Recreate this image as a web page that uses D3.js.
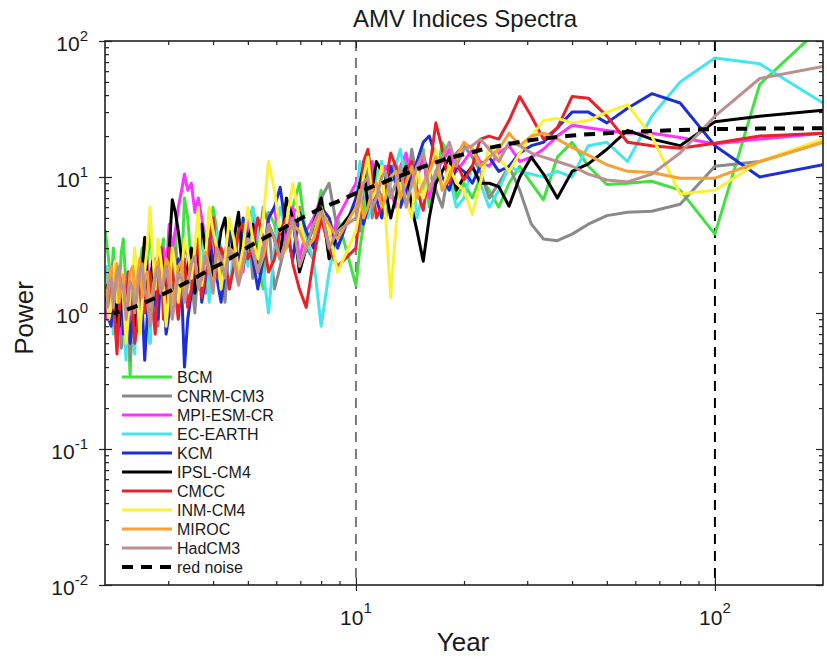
<!DOCTYPE html>
<html><head><meta charset="utf-8">
<script src="https://cdn.jsdelivr.net/npm/d3@7"></script>
<style>
body{margin:0;background:#fff}
svg{display:block}
text{font-family:"Liberation Sans",Arial,Helvetica,sans-serif;fill:#1a1a1a}
</style>
</head><body>
<svg id="c" width="827" height="659"></svg>
<script>
// ---------- DATA ----------
// periods (years) of the model spectra
const periods = [200, 133.3, 100, 80, 66.7, 57.1, 50, 44.4, 40, 36.4, 33.3, 30.8, 28.6, 26.7, 25, 23.5, 22.2, 21.1, 20,
  19.05, 18.2, 17.4, 16.7, 16, 15.4, 14.8, 14.3, 13.8, 13.3, 12.9, 12.5, 12.1, 11.8, 11.4, 11.1, 10.8, 10.5, 10.26, 10,
  8.89, 8.42, 8, 7.62, 7.27, 6.96, 6.67, 6.4, 6.15, 5.93, 5.71, 5.52, 5.33, 5.16, 5, 4.85, 4.71, 4.57, 4.44, 4.32,
  4.21, 4.10, 4, 3.9, 3.81, 3.72, 3.64, 3.56, 3.48, 3.40, 3.33, 3.27, 3.2, 3.14, 3.08, 3.02, 2.96, 2.91, 2.86, 2.81,
  2.76, 2.71, 2.67, 2.62, 2.58, 2.54, 2.5, 2.46, 2.42, 2.39, 2.35, 2.32, 2.29, 2.25, 2.22, 2.19, 2.16, 2.13, 2.11, 2.08,
  2.05, 2.03, 2.0];

const BCM = [130, 48, 3.8, 8.0, 9.3, 9.0, 8.8, 12, 18, 14, 6.8, 9, 12, 9, 6, 8, 10, 7, 9,
  7, 14, 18, 9, 6, 16, 9, 12, 14, 6, 11, 10, 5, 13, 7, 8, 11, 4.5, 3, 1.6,
  5, 2.5, 8, 4, 3.5, 9, 6, 3, 2.5, 4.5, 5.5, 1.5, 2.2, 6, 4.5, 2.5, 1.8, 3, 4, 1.5, 2.5, 4, 6, 3, 1.6, 2.8, 3.5, 1.4,
  2.2, 5, 7, 2, 1.5, 4, 3, 1.8, 1.2, 3.5, 2.6, 1.6, 1.0, 2.5, 4.5, 2, 1.4, 3, 2.2, 1.0, 0.8, 1.5, 0.34, 0.8, 1.5, 3.5,
  2.8, 1.4, 1.2, 2.0, 3.0, 1.5, 2.4, 3.0, 4.1];
const CNRM = [18, 13, 12, 6.3, 5.6, 5.5, 5.2, 4.5, 3.8, 3.4, 3.5, 4.5, 8, 12, 9, 7, 11, 14, 17,
  15, 12, 6, 8, 11, 14, 10, 16, 7, 9, 13, 11, 5, 7, 9, 5, 12, 9, 4, 6,
  4, 9, 7, 2.5, 3, 6, 5.5, 3.5, 2.2, 1.5, 4.5, 6, 3, 1.8, 5, 2.5, 1.8, 4, 3.5, 1.2, 2, 3, 4, 2, 1.4, 3.5, 2.5, 1.0,
  1.8, 2.6, 3.2, 1.8, 1.2, 3, 2.4, 1.5, 0.9, 2.8, 2, 0.8, 1.3, 2, 0.6, 1.2, 1.6, 2.5, 1.0, 1.6, 2.2, 0.9, 0.45, 1.2,
  1.5, 0.7, 0.55, 2, 1.4, 0.9, 2.4, 1.3, 1.0, 2.2, 1.8];
const MPI = [21, 19, 17.5, 19.5, 21, 21, 22, 23, 24, 20, 16, 14, 13, 17, 15, 12, 13, 16, 13,
  11, 16, 13, 11, 7, 14, 10, 9, 15, 12, 6, 8, 12, 10, 7, 13, 9, 7, 11, 9,
  5, 3, 7, 5, 4, 2.5, 6, 4, 3, 6, 5, 2.5, 3.5, 5.5, 4.5, 2, 2.5, 3.5, 4, 2.8, 2.2, 3.5, 5, 2.5, 3.5, 5, 7, 5.5,
  9, 8, 10.5, 8, 6, 4, 3, 4.5, 2, 3, 1.5, 2.2, 2.5, 1.6, 1.2, 2.4, 2, 1.3, 1, 1.8, 1.6, 1.1, 0.9, 2, 1.4, 1, 0.7, 1.5,
  1.2, 2, 0.8, 1.2, 1.5, 0.9, 1.1];
const ECEARTH = [35, 68, 75, 50, 28, 13, 18, 17, 10, 11, 10, 10.5, 11, 12, 8, 6, 9, 12, 7,
  6, 10, 8, 14, 12, 8, 5, 12, 9, 16, 12, 9, 6, 13, 10, 7, 5, 10, 13, 6,
  4, 2, 0.8, 2.5, 3.5, 5, 2.5, 4, 6, 3, 1.0, 2, 4, 6, 2.2, 3.5, 5, 3, 1.5, 2.5, 3, 4, 2, 1.2, 4, 2.5, 1.5, 3,
  2.8, 1.6, 1.8, 3, 1.2, 2, 2.5, 1.5, 0.8, 1.2, 2, 2.6, 1.2, 1.8, 0.6, 1.1, 1.6, 0.9, 1.0, 1.8, 0.5, 0.9, 1.3, 2,
  0.45, 0.8, 1.0, 1.4, 1.6, 1.0, 0.7, 1.3, 1.2, 2.2, 1.8];
const KCM = [12.3, 10, 17, 35, 41, 32, 25, 30, 30, 23, 18, 17, 15, 12, 11, 14, 12, 9, 11,
  12, 8, 10, 14, 20, 18, 13, 10, 8, 6, 9, 12, 8, 5, 7, 9, 6, 4.5, 9, 7,
  3, 5, 6, 3, 4, 5.5, 2.5, 4, 8.4, 6, 5, 2.5, 1.5, 2.5, 3.5, 5, 2, 2.8, 4, 2, 1.2, 1.8, 2.5, 3.5, 1.8, 1.2, 3, 2,
  1.4, 0.9, 0.4, 1.5, 2.5, 1.8, 1.5, 1, 0.7, 1.4, 2, 0.9, 1.2, 2.2, 1.8, 0.9, 0.45, 1.1, 0.9, 2, 1.4, 0.9, 0.6, 1.2,
  1.1, 0.7, 1.6, 1.2, 0.8, 1.5, 1.3, 0.8, 0.9, 1.6, 1.2];
const IPSL = [31, 28, 25.5, 17, 19, 22, 16, 12.5, 11, 7, 10.5, 14, 10, 6.1, 8.5, 9, 9, 12, 10,
  8, 14, 11, 9, 5, 2.4, 4, 6, 12, 10, 7, 5, 8, 11, 13, 8, 6, 12, 9, 6,
  4, 2.5, 7, 4.5, 3, 2, 5, 7, 2.5, 3.5, 4.5, 2.8, 2, 4.5, 3.5, 2.2, 5.5, 3.5, 2.5, 5, 4, 2.5, 1.8, 2.8, 3, 4.5, 2.2, 1.4,
  3, 2.2, 1.5, 2.5, 4, 5.5, 6.8, 3, 1.2, 2, 3, 1.4, 1.8, 2.4, 1.0, 1.8, 3.6, 2.2, 1.4, 2, 0.8, 1.3, 1.6, 0.9,
  1.0, 1.8, 1.3, 0.8, 0.9, 1.6, 1.5, 1.0, 1.1, 1.6, 1.3];
const CMCC = [21, 20, 17.7, 16.3, 17, 18, 28, 38, 39, 23, 19, 28, 39, 26, 19, 20, 19, 12, 9.5,
  13, 9, 16, 25, 11, 5.7, 8, 13, 10, 8, 12, 15, 9, 6, 5, 9, 16, 13, 6, 3,
  2.2, 3, 5, 2.5, 1.1, 1.5, 2.3, 5, 4, 2.5, 2, 3.5, 5, 3, 2.5, 4.5, 4, 2.2, 1.5, 2.5, 3, 1.8, 5, 3, 2, 1.3, 3.5, 2.4,
  1.5, 1.1, 2.5, 1.6, 0.9, 1.4, 2, 3, 1.3, 0.9, 3, 1.8, 0.7, 1.2, 2, 1.4, 1.0, 2.2, 1.6, 0.8, 0.6, 1.1, 1.4, 2,
  0.9, 1.3, 1.8, 1, 0.5, 0.9, 1.2, 1.8, 0.9, 1.3, 1.4];
const INM = [19, 13, 8, 7.5, 20, 34, 30, 26, 25, 27, 26, 20, 15, 11, 14, 17, 9, 5.3, 8,
  9, 12, 8, 16, 10, 7, 12, 5, 7, 9, 4, 1.3, 5, 12, 8, 7, 14, 10, 6, 4,
  2, 4, 6, 3.5, 3, 5, 9, 4.5, 4, 8, 13, 5, 2.5, 3.5, 6, 3, 2, 3.5, 5, 2.5, 1.5, 3, 4, 6, 2.5, 1.6, 6, 3,
  1.8, 2.8, 3.5, 2, 1.2, 2.2, 3, 1.5, 0.8, 1.6, 2.5, 3.5, 1.5, 3, 6, 3, 2, 1.2, 0.7, 1.5, 3, 2, 1.4, 0.9,
  0.6, 1.3, 2, 1.4, 1.2, 2.4, 1.8, 1.1, 0.9, 1.4, 1.5];
const MIROC = [18, 13, 9.8, 9.8, 10.8, 11, 12.3, 14.5, 16.5, 19, 21, 20, 17, 21, 16, 14, 12, 16, 18,
  14, 10, 8, 14, 11, 9, 7, 12, 9, 7, 11, 10, 7, 6, 9, 8, 6, 5, 8, 6,
  3.5, 4.5, 5.5, 3.5, 3, 4, 4.5, 3, 2.5, 3.5, 4, 2.6, 2, 3, 3.5, 2.4, 1.8, 2.8, 3, 2, 2.2, 3, 1.5, 2.2, 2.8, 1.9, 1.6, 2.6,
  2.4, 1.7, 1.3, 2.4, 2.2, 1.5, 1.2, 2.2, 2.5, 1.8, 1.4, 2.4, 2.0, 1.4, 1.1, 2, 1.8, 1.3, 2.5, 1.8, 1.3, 2.2, 2.0, 1.3,
  1.0, 1.9, 1.7, 1.2, 2.3, 1.6, 1.2, 2.2, 2.0, 1.3, 1.5];
const HadCM3 = [65, 53, 28, 15, 10.5, 9.2, 9.5, 10.5, 12, 13, 14, 15, 17, 18, 13, 16, 19, 17, 16,
  12, 18, 14, 11, 8, 15, 12, 9, 6, 12, 9, 7, 11, 10, 7, 6, 10, 9, 7, 5,
  4, 3, 6, 4.5, 3, 2.2, 5, 3.5, 2.5, 3.5, 4.5, 3, 2, 2.8, 3.5, 2.2, 1.6, 2.4, 3, 1.8, 2.5, 3, 1.4, 2, 2.6, 1.8, 1.5, 2.6,
  2.3, 1.6, 1.2, 1.8, 2.0, 1.3, 0.9, 1.6, 2.2, 1.6, 1.4, 2.2, 1.8, 1.2, 0.8, 1.3, 1.5, 2.3, 2.0, 1.4, 1.0, 1.5, 1.7, 1.2,
  0.9, 1.6, 1.5, 2.2, 2.0, 1.4, 1.1, 1.8, 1.6, 1.1, 1.2];

// red-noise reference spectrum
const noisePeriods = [200, 133.3, 100, 80, 66.7, 57.1, 50, 44.4, 40, 36.4, 33.3, 30.8, 28.6, 26.7, 25, 23.5, 22.2, 21.1, 20,
  18.2, 16.7, 15.4, 14.3, 13.3, 12.5, 11.8, 11.1, 10.5, 10,
  8.89, 8, 7.27, 6.67, 6.15, 5.71, 5.33, 5, 4.71, 4.44, 4.21, 4, 3.81, 3.64, 3.48, 3.33, 3.2, 3.08, 2.96, 2.86,
  2.76, 2.67, 2.58, 2.5, 2.42, 2.35, 2.29, 2.22, 2.16, 2.11];
const redNoise = [22.8, 22.7, 22.5, 22.2, 21.8, 21.4, 21.0, 20.6, 20.2, 19.7, 19.2, 18.7, 18.1, 17.5, 16.9, 16.4, 15.8, 15.2, 14.7,
  13.8, 12.8, 11.9, 11.0, 10.2, 9.6, 9.0, 8.5, 8.0, 7.6,
  6.6, 5.9, 5.2, 4.6, 4.1, 3.7, 3.35, 3.05, 2.75, 2.5, 2.3, 2.15, 2.0, 1.87, 1.75, 1.65, 1.56, 1.48, 1.41, 1.35,
  1.29, 1.24, 1.19, 1.15, 1.11, 1.08, 1.05, 1.03, 1.01, 1.0];

const seriesNames = ["BCM", "CNRM-CM3", "MPI-ESM-CR", "EC-EARTH", "KCM", "IPSL-CM4", "CMCC", "INM-CM4", "MIROC", "HadCM3"];
const seriesValues = [BCM, CNRM, MPI, ECEARTH, KCM, IPSL, CMCC, INM, MIROC, HadCM3];
const redNoiseName = "red noise";
const titleText = "AMV Indices Spectra";
const xLabel = "Year", yLabel = "Power";
const xMajorTicks = [10, 100];
const yMajorTicks = [0.01, 0.1, 1, 10, 100];
const xDomain = [2, 200], yDomain = [0.01, 100];

// ---------- STYLE ----------
const colors = ["#3fe23f", "#8a8a8a", "#ff33ff", "#44e6ee", "#1e2ed6", "#000000", "#e8222a", "#faf23a", "#f5a232", "#bc9090"];
const L = 105, R = 823, T = 41, B = 585;

const svg = d3.select("#c");
const x = d3.scaleLog().domain(xDomain).range([L, R]);
const y = d3.scaleLog().domain(yDomain).range([B, T]);

svg.append("defs").append("clipPath").attr("id", "clip")
  .append("rect").attr("x", L).attr("y", T).attr("width", R - L).attr("height", B - T);

// vertical dashed lines
svg.append("line").attr("x1", x(10)).attr("x2", x(10)).attr("y1", T).attr("y2", B)
  .attr("stroke", "#7a7a7a").attr("stroke-width", 2).attr("stroke-dasharray", "10,7");
svg.append("line").attr("x1", x(100)).attr("x2", x(100)).attr("y1", T).attr("y2", B)
  .attr("stroke", "#000").attr("stroke-width", 2).attr("stroke-dasharray", "10,7");

const line = d3.line().x(d => x(d[0])).y(d => y(d[1]));
const plot = svg.append("g").attr("clip-path", "url(#clip)");
seriesValues.forEach((vals, i) => {
  plot.append("path").datum(periods.map((p, k) => [p, vals[k]]))
    .attr("d", line).attr("fill", "none").attr("stroke", colors[i])
    .attr("stroke-width", 3).attr("stroke-linejoin", "round");
});
plot.append("path").datum(noisePeriods.map((p, k) => [p, redNoise[k]]))
  .attr("d", line).attr("fill", "none").attr("stroke", "#000")
  .attr("stroke-width", 4).attr("stroke-dasharray", "11,8");

// axes
const axisStyle = g => { g.select(".domain").remove(); g.selectAll("line").attr("stroke", "#222").attr("stroke-width", 1.2); g.selectAll("text").remove(); };
const yMinor = y.ticks().filter(v => !yMajorTicks.includes(v));
const xMinor = x.ticks().filter(v => !xMajorTicks.includes(v) && v > 2 && v < 200);

svg.append("g").attr("transform", `translate(${L},0)`).call(d3.axisRight(y).tickValues(yMinor).tickSize(4)).call(axisStyle);
svg.append("g").attr("transform", `translate(${L},0)`).call(d3.axisRight(y).tickValues(yMajorTicks).tickSize(7)).call(axisStyle);
svg.append("g").attr("transform", `translate(${L},0)`).call(d3.axisLeft(y).tickValues(yMajorTicks).tickSize(6)).call(axisStyle);
svg.append("g").attr("transform", `translate(${R},0)`).call(d3.axisLeft(y).tickValues(yMinor).tickSize(4)).call(axisStyle);
svg.append("g").attr("transform", `translate(${R},0)`).call(d3.axisLeft(y).tickValues(yMajorTicks).tickSize(7)).call(axisStyle);

svg.append("g").attr("transform", `translate(0,${B})`).call(d3.axisTop(x).tickValues(xMinor).tickSize(4)).call(axisStyle);
svg.append("g").attr("transform", `translate(0,${B})`).call(d3.axisTop(x).tickValues(xMajorTicks).tickSize(7)).call(axisStyle);
svg.append("g").attr("transform", `translate(0,${B})`).call(d3.axisBottom(x).tickValues(xMajorTicks).tickSize(6)).call(axisStyle);
svg.append("g").attr("transform", `translate(0,${T})`).call(d3.axisBottom(x).tickValues(xMinor).tickSize(4)).call(axisStyle);
svg.append("g").attr("transform", `translate(0,${T})`).call(d3.axisBottom(x).tickValues(xMajorTicks).tickSize(7)).call(axisStyle);

svg.append("rect").attr("x", L).attr("y", T).attr("width", R - L).attr("height", B - T)
  .attr("fill", "none").attr("stroke", "#222").attr("stroke-width", 1.6);

// tick labels
yMajorTicks.forEach(v => {
  const t = svg.append("text").attr("x", 88).attr("y", y(v) + 10).attr("text-anchor", "end")
    .attr("font-size", 21);
  t.append("tspan").text("10");
  t.append("tspan").attr("dy", -10).attr("font-size", 15).text(String(Math.round(Math.log10(v))));
});
xMajorTicks.forEach(v => {
  const t = svg.append("text").attr("x", x(v)).attr("y", 625).attr("text-anchor", "middle")
    .attr("font-size", 21);
  t.append("tspan").text("10");
  t.append("tspan").attr("dy", -12).attr("font-size", 15).text(String(Math.round(Math.log10(v))));
});

// title and axis labels
svg.append("text").attr("x", 465).attr("y", 27).attr("text-anchor", "middle").attr("font-size", 24).text(titleText);
svg.append("text").attr("x", 463).attr("y", 651).attr("text-anchor", "middle").attr("font-size", 26).text(xLabel);
svg.append("text").attr("transform", "translate(33,318) rotate(-90)").attr("text-anchor", "middle").attr("font-size", 26).text(yLabel);

// legend
const leg = svg.append("g");
const legNames = seriesNames.concat([redNoiseName]);
legNames.forEach((n, i) => {
  const yy = 377 + i * 19;
  const isNoise = i === seriesNames.length;
  leg.append("line").attr("x1", 122).attr("x2", 172).attr("y1", yy).attr("y2", yy)
    .attr("stroke", isNoise ? "#000" : colors[i]).attr("stroke-width", isNoise ? 4 : 3)
    .attr("stroke-dasharray", isNoise ? "11,8" : null);
  leg.append("text").attr("x", 177).attr("y", yy + 5.5).attr("font-size", 16).text(n);
});
</script>
</body></html>
